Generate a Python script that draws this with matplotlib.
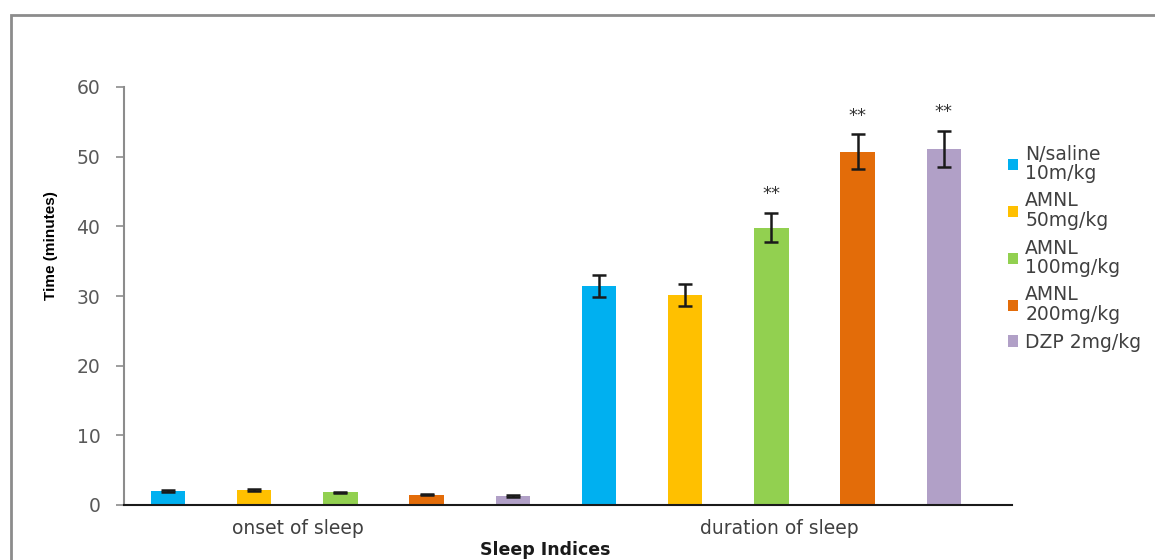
import numpy as np
import matplotlib
matplotlib.use("Agg")
import matplotlib.pyplot as plt
from matplotlib.patches import Rectangle

groups = ["onset of sleep", "duration of sleep"]
series = ["N/saline\n10m/kg", "AMNL\n50mg/kg", "AMNL\n100mg/kg", "AMNL\n200mg/kg", "DZP 2mg/kg"]
colors = ["#00B0F0", "#FFC000", "#92D050", "#E36C09", "#B1A0C7"]

onset = [2.0, 2.15, 1.8, 1.5, 1.3]
onset_err = [0.15, 0.15, 0.1, 0.1, 0.1]
duration = [31.4, 30.1, 39.8, 50.7, 51.1]
duration_err = [1.6, 1.6, 2.1, 2.5, 2.6]
stars = ["", "", "**", "**", "**"]

plt.rcParams['font.family'] = ['DejaVu Sans']

fig = plt.figure(figsize=(11.55, 5.6), dpi=100)
ax = fig.add_axes([124/1155, 1-505/560, (1012-124)/1155, (505-87)/560])

# outer frame
fig.patches.append(Rectangle((11/1155, -0.1), 1.2, 1-15/560+0.1, transform=fig.transFigure,
                             fill=False, edgecolor="#8c8c8c", linewidth=2))

width = 0.4
for i in range(len(series)):
    vals = [onset[i], duration[i]]
    errs = [onset_err[i], duration_err[i]]
    pos = [i, i + 5]
    ax.bar(pos, vals, width, color=colors[i], label=series[i], zorder=2)
    ax.errorbar(pos, vals, yerr=errs, fmt="none", ecolor="#1a1a1a",
                elinewidth=1.8, capsize=5, capthick=1.8, zorder=3)
    if stars[i]:
        ax.annotate(stars[i], (i + 5, duration[i] + duration_err[i]), xytext=(0, 7),
                    textcoords="offset points", ha="center", va="bottom",
                    fontsize=13, color="#333333")

ax.set_xlim(-0.51, 9.79)
ax.set_ylim(0, 60)
ax.set_yticks(range(0, 61, 10))
ax.set_xticks([1.51, 7.09])
ax.set_xticklabels(groups, fontsize=13.5, color="#404040")
ax.tick_params(axis="x", length=0, pad=10)
ax.tick_params(axis="y", length=6, width=1.2, color="#8c8c8c", labelsize=13.5,
               labelcolor="#595959", pad=11)

for s in ["top", "right"]:
    ax.spines[s].set_visible(False)
ax.spines["left"].set_color("#8c8c8c")
ax.spines["left"].set_linewidth(1.5)
ax.spines["bottom"].set_color("#1a1a1a")
ax.spines["bottom"].set_linewidth(1.5)

ax.set_ylabel("Time (minutes)", fontsize=11, fontweight="bold",
              family=["Liberation Sans", "DejaVu Sans"])
ax.yaxis.set_label_coords(-0.074, 0.62)
fig.text(545/1155, 1-550/560, "Sleep Indices", fontsize=12.5, fontweight="bold",
         ha="center", va="center", color="#1a1a1a")

leg = ax.legend(loc="upper left", bbox_to_anchor=(1000/1155, 1-137/560),
                bbox_transform=fig.transFigure, frameon=False, borderaxespad=0,
                fontsize=13.5, handlelength=0.55, handleheight=0.55, handletextpad=0.4,
                labelspacing=0.44, labelcolor="#404040")
for t in leg.get_texts():
    t.set_linespacing(1.05)

fig.savefig("out.png", dpi=100)
